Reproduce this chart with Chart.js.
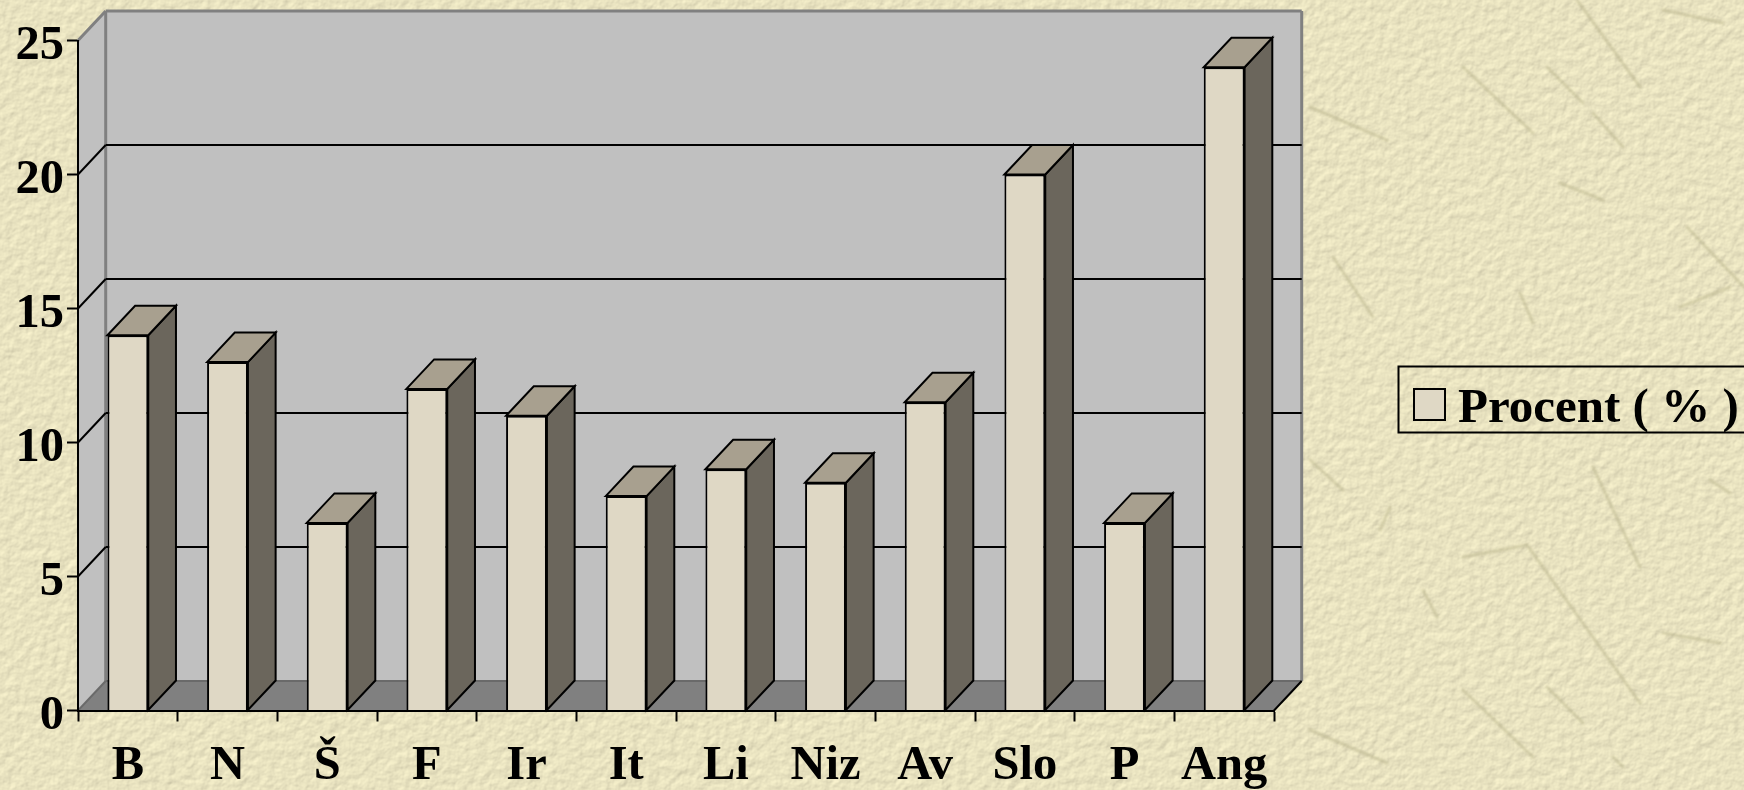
<!DOCTYPE html>
<html>
<head>
<meta charset="utf-8">
<style>
html,body{margin:0;padding:0;width:1744px;height:790px;overflow:hidden;background:#e7e1bf;}
#tex{position:absolute;left:0;top:0;width:1744px;height:790px;}
#wrap{position:absolute;left:0;top:0;width:1744px;height:790px;}
</style>
<script src="https://cdn.jsdelivr.net/npm/chart.js@4"></script>
</head>
<body>
<svg id="tex" xmlns="http://www.w3.org/2000/svg" width="1744" height="790">
  <filter id="paper" x="0" y="0" width="100%" height="100%" color-interpolation-filters="sRGB">
    <feTurbulence type="fractalNoise" baseFrequency="0.11" numOctaves="3" seed="7" result="n"/>
    <feDiffuseLighting in="n" lighting-color="#ffffff" surfaceScale="0.55" diffuseConstant="1.02" result="l">
      <feDistantLight azimuth="235" elevation="62"/>
    </feDiffuseLighting>
    <feColorMatrix in="l" type="matrix" values="1.0 0 0 0 0.01  0 0.975 0 0 0.01  0 0 0.83 0 0.005  0 0 0 1 0"/>
  </filter>
  <filter id="soft"><feGaussianBlur stdDeviation="1.2"/></filter>
  <rect width="1744" height="790" filter="url(#paper)"/>
  <g fill="none" stroke="#b5b088" stroke-width="3" stroke-linecap="round" opacity="0.5" filter="url(#soft)">
    <path d="M1310 107L1387 140"/><path d="M1463 67L1533 133"/><path d="M1547 67L1583 103"/>
    <path d="M1577 0L1640 87"/><path d="M1663 10L1723 23"/><path d="M1593 113L1623 147"/>
    <path d="M1333 257L1373 317"/><path d="M1520 293L1533 323"/><path d="M1680 307L1730 287"/>
    <path d="M1687 227L1744 287"/><path d="M1560 183L1603 200"/>
    <path d="M1310 460L1343 490"/><path d="M1390 507L1380 530"/><path d="M1463 557L1527 545L1640 703"/>
    <path d="M1593 467L1640 567"/><path d="M1423 590L1437 617"/><path d="M1663 633L1720 643"/>
    <path d="M1463 690L1533 757"/><path d="M1547 687L1583 723"/><path d="M1310 730L1387 763"/>
    <path d="M1613 757L1623 767"/><path d="M1710 480L1730 493"/>
  </g>
</svg>
<div id="wrap"><canvas id="c" width="1744" height="790"></canvas></div>
<script>
const categories = ["B","N","Š","F","Ir","It","Li","Niz","Av","Slo","P","Ang"];
const percentValues = [14,13,7,12,11,8,9,8.5,11.5,20,7,24];
const yTicks = [0,5,10,15,20,25];
const seriesLabel = "Procent ( % )";

const FONT = {family:"'Liberation Serif'",size:48.5,weight:"bold"};
const LEGEND_FONT = {family:"'Liberation Serif'",size:49,weight:"bold"};
const DEPTH_X = 27.7, DEPTH_Y = 29.5;
const FRONT = "#dfd8c5", TOP = "#a8a08f", SIDE = "#6b665c", WALL = "#c0c0c0", FLOOR = "#808080";

// legend swatch
const sw = document.createElement("canvas");
sw.width = 33; sw.height = 42;
(function(){
  const g = sw.getContext("2d");
  g.fillStyle = FRONT; g.strokeStyle = "#000"; g.lineWidth = 2;
  g.fillRect(1,1,31,31); g.strokeRect(1,1,31,31);
})();

function poly(ctx, pts, fill, stroke, lw){
  ctx.beginPath();
  pts.forEach((p,i)=> i? ctx.lineTo(p[0],p[1]) : ctx.moveTo(p[0],p[1]));
  ctx.closePath();
  if(fill){ctx.fillStyle = fill; ctx.fill();}
  if(stroke){ctx.strokeStyle = stroke; ctx.lineWidth = lw; ctx.lineJoin="miter"; ctx.stroke();}
}
function line(ctx,x1,y1,x2,y2,c,lw){
  ctx.beginPath();ctx.moveTo(x1,y1);ctx.lineTo(x2,y2);ctx.strokeStyle=c;ctx.lineWidth=lw;ctx.stroke();
}

const box3d = {
  id:"box3d",
  beforeLayout(chart){
    const lg = chart.legend;
    if(!lg._fitWrapped){
      const f = lg.fit;
      lg.fit = function(){ f.call(this); this.width = 346; };
      lg._fitWrapped = true;
    }
  },
  afterLayout(chart){
    const lg = chart.legend;
    const w = lg.width, h = lg.height;
    lg.left = 1398; lg.right = 1398 + w; lg.top = 357; lg.bottom = 357 + h;
  },
  beforeDraw(chart){
    const {ctx, chartArea:a, scales:{y}} = chart;
    const dx = DEPTH_X, dy = DEPTH_Y;
    const L=a.left, R=a.right, T=a.top, B=a.bottom;
    ctx.save();
    poly(ctx,[[L+dx,T-dy],[R+dx,T-dy],[R+dx,B-dy],[L+dx,B-dy]],WALL);
    poly(ctx,[[L,T],[L+dx,T-dy],[L+dx,B-dy],[L,B]],WALL);
    poly(ctx,[[L,B],[L+dx,B-dy],[R+dx,B-dy],[R,B]],FLOOR);
    line(ctx,L+dx,T-dy,R+dx,T-dy,"#808080",3);
    line(ctx,L,T,L+dx,T-dy,"#808080",3);
    line(ctx,L+dx,T-dy,L+dx,B-dy,"#808080",3);
    line(ctx,R+dx,T-dy,R+dx,B-dy,"#808080",3);
    line(ctx,L+dx,B-dy,R+dx,B-dy,"#6a6a6a",2);
    line(ctx,L,B,L+dx,B-dy,"#6a6a6a",2);
    line(ctx,R,B,R+dx,B-dy,"#000",2);
    yTicks.forEach(v=>{
      if(v===0||v===25) return;
      const p = y.getPixelForValue(v);
      line(ctx,L,p,L+dx,p-dy,"#000",2);
      line(ctx,L+dx,p-dy,R+dx,p-dy,"#000",2);
    });
    ctx.restore();
  },
  beforeDatasetsDraw(chart){
    const {ctx} = chart, dx = DEPTH_X, dy = DEPTH_Y;
    ctx.save();
    chart.getDatasetMeta(0).data.forEach(el=>{
      const p = el.getProps(["x","y","base","width"],true);
      const l = p.x-p.width/2, r = p.x+p.width/2;
      poly(ctx,[[r,p.y],[r+dx,p.y-dy],[r+dx,p.base-dy],[r,p.base]],SIDE,"#000",2);
      poly(ctx,[[l,p.y],[l+dx,p.y-dy],[r+dx,p.y-dy],[r,p.y]],TOP,"#000",2);
    });
    ctx.restore();
  },
  afterDraw(chart){
    const {ctx} = chart;
    ctx.save();
    ctx.strokeStyle="#000"; ctx.lineWidth=2;
    ctx.strokeRect(1398.5,366.5,360,66);
    ctx.restore();
  }
};

new Chart(document.getElementById("c"),{
  type:"bar",
  data:{labels:categories,datasets:[{
    label:seriesLabel,
    data:percentValues,
    backgroundColor:FRONT,
    borderColor:"#000",
    borderWidth:2,
    barPercentage:0.41,
    categoryPercentage:1
  }]},
  options:{
    responsive:false,
    animation:false,
    layout:{padding:{top:40.5,right:124,bottom:0,left:0}},
    plugins:{
      tooltip:{enabled:false},
      legend:{
        display:true,position:"right",align:"start",
        labels:{
          usePointStyle:true,pointStyleWidth:8,boxHeight:31,padding:27.5,
          color:"#000",font:LEGEND_FONT,
          generateLabels(chart){
            return [{text:seriesLabel,pointStyle:sw,fontColor:"#000",datasetIndex:0,hidden:false,lineWidth:0}];
          }
        }
      }
    },
    scales:{
      x:{
        type:"category",
        offset:true,
        afterFit(s){s.height=79.5;},
        grid:{display:true,drawOnChartArea:false,offset:true,drawTicks:true,tickLength:11,tickColor:"#000",tickWidth:2},
        border:{display:true,color:"#000",width:2},
        ticks:{color:"#000",font:FONT,padding:16,maxRotation:0,autoSkip:false}
      },
      y:{
        min:0,max:25,
        afterFit(s){s.width=78;},
        grid:{display:true,drawOnChartArea:false,tickLength:11,tickColor:"#000",tickWidth:2},
        border:{display:true,color:"#000",width:2},
        ticks:{color:"#000",font:FONT,padding:3,stepSize:5,labelOffset:6}
      }
    }
  },
  plugins:[box3d]
});
</script>
</body>
</html>
